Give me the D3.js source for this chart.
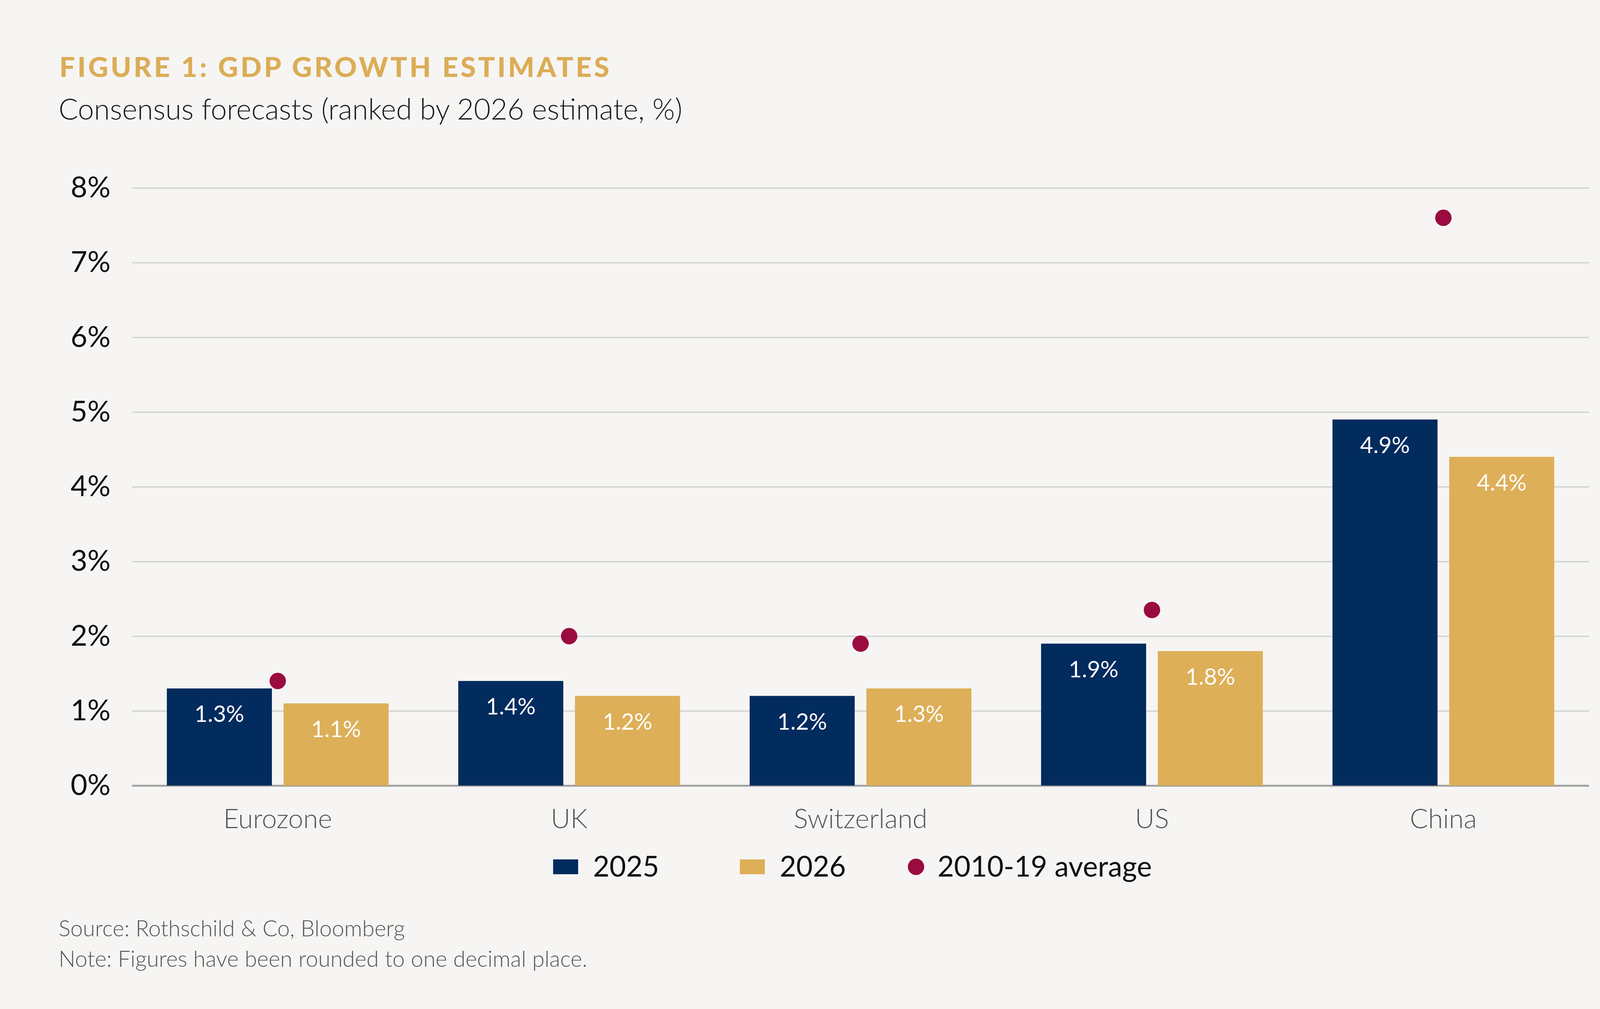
<!DOCTYPE html>
<html>
<head>
<meta charset="utf-8">
<script src="https://cdn.jsdelivr.net/npm/d3@7"></script>
<style>
  html, body { margin: 0; padding: 0; background: #f6f5f3; overflow: hidden; }
  svg { display: block; }
</style>
</head>
<body>
<div id="chart"></div>
<script>
// data
const countries = ["Eurozone", "UK", "Switzerland", "US", "China"]
const years = ["2025", "2026"]
const growth2025 = [1.3, 1.4, 1.2, 1.9, 4.9]
const growth2026 = [1.1, 1.2, 1.3, 1.8, 4.4]
const avg2010_19 = [1.4, 2.0, 1.9, 2.35, 7.6]
const yTicks = [0, 1, 2, 3, 4, 5, 6, 7, 8]
const legendLabels = ["2025", "2026", "2010-19 average"]

const colors = { "2025": "#022b5e", "2026": "#ddaf58", avg: "#9a0b3f" }
const font = "Lato, 'Open Sans', sans-serif"

const W = 4224
const H = 2583
const margin = { top: 481, bottom: 572, left: 338, right: 156 }
const width = W - margin.left - margin.right
const height = H - margin.top - margin.bottom

const rows = countries.map((c, i) => ({
  country: c,
  values: [
    { year: "2025", value: growth2025[i] },
    { year: "2026", value: growth2026[i] }
  ],
  avg: avg2010_19[i]
}))

const svg = d3
  .select("#chart")
  .append("svg")
  .attr("width", W)
  .attr("height", H)
  .style("font-family", font)

svg.append("rect").attr("width", W).attr("height", H).attr("fill", "#f6f5f3")

// title block
svg
  .append("text")
  .attr("x", 152)
  .attr("y", 197)
  .attr("fill", "#dbad57")
  .style("font-size", "71px")
  .style("font-weight", 900)
  .style("letter-spacing", "6px")
  .text("FIGURE 1: GDP GROWTH ESTIMATES")

svg
  .append("text")
  .attr("x", 150)
  .attr("y", 306)
  .attr("fill", "#1a1a1a")
  .style("font-size", "74px")
  .style("font-weight", 300)
  .text("Consensus forecasts (ranked by 2026 estimate, %)")

const g = svg
  .append("g")
  .attr("transform", `translate(${margin.left},${margin.top})`)

// scales
const x0 = d3.scaleBand().domain(countries).range([0, width]).paddingInner(0.239).paddingOuter(0.1195)
const x1 = d3.scaleBand().domain(years).range([0, x0.bandwidth()]).paddingInner(0.1)
const y = d3.scaleLinear().domain([0, 8]).range([height, 0])

// gridlines + y labels
const yaxis = d3
  .axisLeft(y)
  .tickValues(yTicks)
  .tickSize(-width)
  .tickPadding(55)
  .tickFormat((d) => d + "%")

const g_yaxis = g.append("g").attr("class", "y axis").call(yaxis)
g_yaxis.select(".domain").remove()
g_yaxis
  .selectAll(".tick line")
  .attr("stroke", (d) => (d === 0 ? "#a3a3a3" : "#cfcfcd"))
  .attr("stroke-width", (d) => (d === 0 ? 5 : 3))
g_yaxis
  .selectAll(".tick text")
  .attr("fill", "#111")
  .style("font-family", font)
  .style("font-size", "74px")
  .style("font-weight", 400)

// x labels
const xaxis = d3.axisBottom(x0).tickSize(0).tickPadding(60)
const g_xaxis = g.append("g").attr("class", "x axis").attr("transform", `translate(0,${height})`).call(xaxis)
g_xaxis.select(".domain").remove()
g_xaxis
  .selectAll(".tick text")
  .attr("fill", "#555")
  .style("font-family", font)
  .style("font-size", "69px")
  .style("font-weight", 300)

// bars
const groups = g
  .selectAll(".country")
  .data(rows)
  .join("g")
  .attr("class", "country")
  .attr("transform", (d) => `translate(${x0(d.country)},0)`)

groups
  .selectAll("rect")
  .data((d) => d.values)
  .join("rect")
  .attr("x", (d) => x1(d.year))
  .attr("y", (d) => y(d.value))
  .attr("width", x1.bandwidth())
  .attr("height", (d) => y(0) - y(d.value))
  .attr("fill", (d) => colors[d.year])

groups
  .selectAll(".val")
  .data((d) => d.values)
  .join("text")
  .attr("class", "val")
  .attr("x", (d) => x1(d.year) + x1.bandwidth() / 2)
  .attr("y", (d) => y(d.value) + 86)
  .attr("text-anchor", "middle")
  .attr("fill", "#fff")
  .style("font-size", "58px")
  .text((d) => d.value.toFixed(1) + "%")

// 2010-19 average dots
groups
  .append("circle")
  .attr("cx", x0.bandwidth() / 2)
  .attr("cy", (d) => y(d.avg))
  .attr("r", 21)
  .attr("fill", colors.avg)

// legend
const legend = svg.append("g").attr("transform", "translate(0,2219)")
const legendX = [1416, 1894, 2325]
legendLabels.forEach((lab, i) => {
  const item = legend.append("g").attr("transform", `translate(${legendX[i]},0)`)
  if (i < 2) {
    item.append("rect").attr("y", -19).attr("width", 64).attr("height", 38).attr("fill", colors[years[i]])
  } else {
    item.append("circle").attr("cx", 20).attr("r", 21).attr("fill", colors.avg)
  }
  item
    .append("text")
    .attr("x", i < 2 ? 102 : 75)
    .attr("y", 25)
    .attr("fill", "#111")
    .style("font-size", "73px")
    .text(lab)
})

// notes
svg
  .append("text")
  .attr("x", 150)
  .attr("y", 2397)
  .attr("fill", "#555")
  .style("font-size", "57px")
  .style("font-weight", 300)
  .text("Source: Rothschild & Co, Bloomberg")

svg
  .append("text")
  .attr("x", 150)
  .attr("y", 2475)
  .attr("fill", "#555")
  .style("font-size", "57px")
  .style("font-weight", 300)
  .text("Note: Figures have been rounded to one decimal place.")
</script>
</body>
</html>
